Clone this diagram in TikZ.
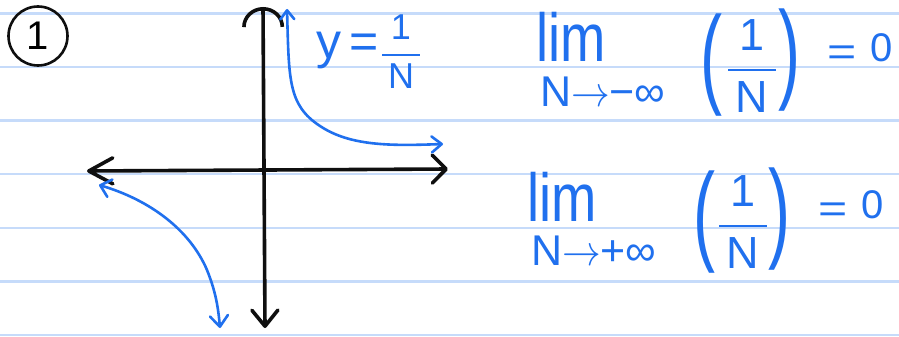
\documentclass[tikz,border=0pt]{standalone}
\usepackage{fix-cm}
\usepackage{amsmath}
\usepackage{fontspec}
\setmainfont{Liberation Sans}
\usepackage{graphicx}
\usetikzlibrary{arrows.meta}
\definecolor{ink}{RGB}{15,15,15}
\definecolor{pen}{RGB}{32,112,238}
\definecolor{rule}{RGB}{198,219,250}
\newcommand{\onen}{$\genfrac{}{}{2.6pt}{0}{\mathrm{1}}{\mathrm{\,N\,}}$}

\begin{document}
\begin{tikzpicture}[x=1pt, y=-1pt,
  ruled/.style={draw=rule, line width=2.2pt},
  axis/.style={draw=ink, line width=3.6pt, line cap=round, line join=round},
  curve/.style={draw=pen, line width=2.6pt, line cap=round, line join=round},
  hw/.style={text=pen, inner sep=0pt, outer sep=0pt},
  limtext/.style={hw, font=\fontsize{68}{68}\selectfont, anchor=base west},
  subtext/.style={hw, font=\fontsize{43}{43}\selectfont, anchor=base west},
  fractext/.style={hw, font=\fontsize{45}{45}\selectfont},
  parentext/.style={hw, font=\fontsize{110}{110}\selectfont},
  eqtext/.style={hw, font=\fontsize{40}{40}\selectfont, anchor=base west},
]
\useasboundingbox (0,0) rectangle (899,337);
\fill[white] (0,0) rectangle (899,337);
\foreach \ry in {13.5,67,120.5,174,228,281.5,335}
  \draw[ruled] (0,\ry) -- (899,\ry);

% number in the margin
\node[draw=ink, circle, line width=2.6pt, minimum size=59pt, inner sep=0pt,
      font=\fontsize{40}{40}\selectfont] (num) at (38,36) {1};

% axes
\coordinate (ytop) at (263,7);
\coordinate (ybot) at (265,328);
\coordinate (xleft) at (87,171);
\coordinate (xright) at (448,169);
\draw[axis, {Arc Barb[length=20pt,width=42pt]}-{Straight Barb[round,length=16pt,width=26pt]}] (ytop) -- (ybot);
\draw[axis, {Straight Barb[round,length=24pt,width=26pt]}-{Straight Barb[round,length=14pt,width=28pt]}] (xleft) -- (xright);

% the two branches of y = 1/N
\coordinate (qa) at (287,9);
\coordinate (qb) at (443,144);
\coordinate (pa) at (99,185);
\coordinate (pb) at (220,328);
\draw[curve, {Straight Barb[round,length=9pt,width=14pt]}-{Straight Barb[round,length=10pt,width=16pt]}]
  (qa) .. controls (289,80) and (288,105) .. (320,126) .. controls (350,146) and (390,146) .. (qb);
\draw[curve, {Straight Barb[round,length=10pt,width=18pt]}-{Straight Barb[round,length=11pt,width=18pt]}]
  (pa) .. controls (150,200) and (190,230) .. (207,270) .. controls (215,290) and (218,305) .. (pb);

\node[hw, font=\fontsize{50}{50}\selectfont, anchor=base west] (yfun) at (316,59) {y\,=};
\node[hw, font=\fontsize{36}{36}\selectfont] (yfrac) at (401,52) {\onen};

% limit as N goes to minus infinity
\node[limtext] (lim1) at (536,62) {\scalebox{0.8}[1]{lim}};
\node[subtext] (sub1) at (540,106) {N\scalebox{0.9}[1]{$\rightarrow$}−∞};
\node[parentext] (lp1) at (711,65) {\scalebox{0.6}[1]{(}};
\node[fractext] (frac1) at (752,66) {\onen};
\node[parentext] (rp1) at (789,60) {\scalebox{0.6}[1]{)}};
\node[eqtext] (eq1) at (827,62) {\raisebox{-4pt}{\scalebox{1.25}[1]{=}}\hspace{14pt}0};

% limit as N goes to plus infinity
\node[limtext] (lim2) at (527,221) {\scalebox{0.8}[1]{lim}};
\node[subtext] (sub2) at (531,265) {N\scalebox{0.9}[1]{$\rightarrow$}+∞};
\node[parentext] (lp2) at (704,222) {\scalebox{0.6}[1]{(}};
\node[fractext] (frac2) at (743,222) {\onen};
\node[parentext] (rp2) at (779,219) {\scalebox{0.6}[1]{)}};
\node[eqtext] (eq2) at (818,218) {\raisebox{-4pt}{\scalebox{1.25}[1]{=}}\hspace{14pt}0};
\end{tikzpicture}
\end{document}
